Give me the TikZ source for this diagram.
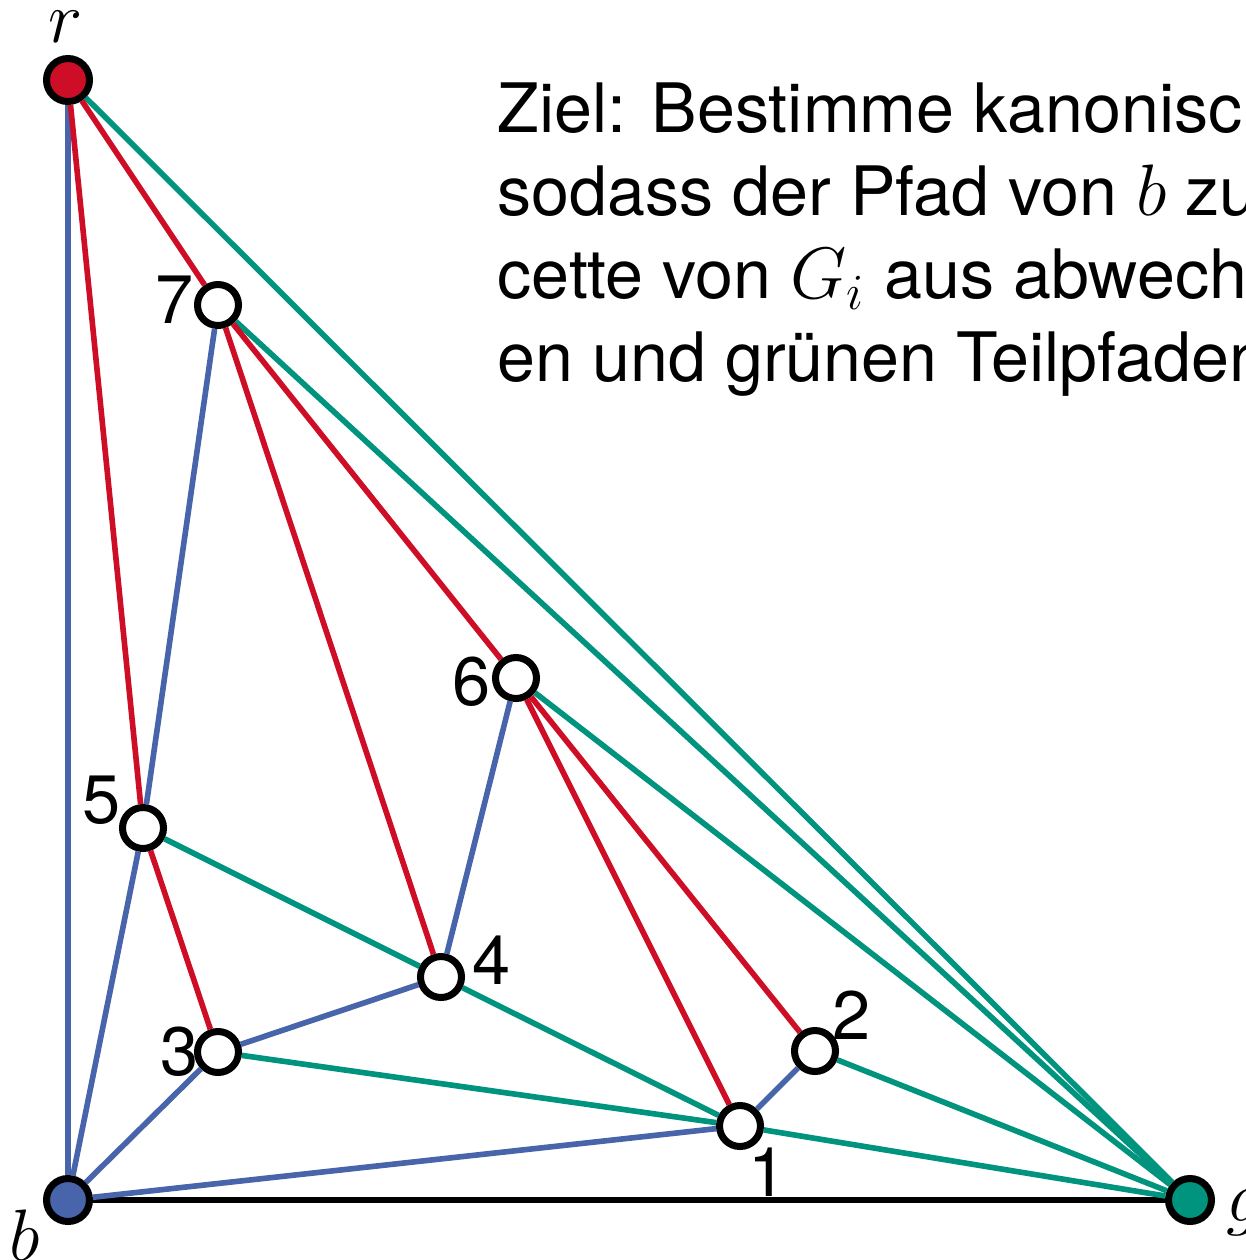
\documentclass[tikz,border=0pt]{standalone}
\usepackage{fontspec}
\setmainfont{TeX Gyre Heros}
\usetikzlibrary{positioning}
\definecolor{redpath}{RGB}{206, 14, 38}
\definecolor{bluepath}{RGB}{72, 100, 170}
\definecolor{greenpath}{RGB}{0, 148, 126}
\tikzset{
vertex/.style={
  circle,
  draw=black,
  line width=2pt,
  fill=white,
  minimum size=4.1mm,
  inner sep=0pt
},
rootvertex/.style={
  vertex,
  minimum size=4.3mm
},
numlabel/.style={
  font=\fontsize{19.5}{22}\selectfont,
  inner sep=0pt
},
rededge/.style={
  draw=redpath,
  line width=1.6pt
},
blueedge/.style={
  draw=bluepath,
  line width=1.6pt
},
greenedge/.style={
  draw=greenpath,
  line width=1.6pt
},
outeredge/.style={
  draw=black,
  line width=1.6pt
}
}
\begin{document}
\begin{tikzpicture}
  \useasboundingbox (0,0) rectangle (12.46,-12.60);
  \clip (0,0) rectangle (12.46,-12.60);

  % outer vertices
  \node[rootvertex, fill=redpath] (r) at (0.68,-0.80) {};
  \node[rootvertex, fill=bluepath] (b) at (0.68,-12.00) {};
  \node[rootvertex, fill=greenpath] (g) at (11.90,-12.00) {};

  % inner vertices
  \node[vertex] (v7) at (2.18,-3.05) {};
  \node[vertex] (v6) at (5.16,-6.78) {};
  \node[vertex] (v5) at (1.43,-8.28) {};
  \node[vertex] (v4) at (4.41,-9.77) {};
  \node[vertex] (v3) at (2.18,-10.52) {};
  \node[vertex] (v2) at (8.15,-10.51) {};
  \node[vertex] (v1) at (7.40,-11.26) {};

  % edges
  \draw[outeredge] (b) -- (g);
  \draw[blueedge] (b) -- (r);
  \draw[greenedge] (r) -- (g);
  \draw[rededge] (r) -- (v7);
  \draw[rededge] (r) -- (v5);
  \draw[greenedge] (v7) -- (g);
  \draw[blueedge] (v7) -- (v5);
  \draw[rededge] (v7) -- (v4);
  \draw[rededge] (v7) -- (v6);
  \draw[greenedge] (v6) -- (g);
  \draw[blueedge] (v6) -- (v4);
  \draw[rededge] (v6) -- (v1);
  \draw[rededge] (v6) -- (v2);
  \draw[blueedge] (v5) -- (b);
  \draw[rededge] (v5) -- (v3);
  \draw[greenedge] (v5) -- (v4);
  \draw[blueedge] (v4) -- (v3);
  \draw[greenedge] (v4) -- (v1);
  \draw[blueedge] (v3) -- (b);
  \draw[greenedge] (v3) -- (v1);
  \draw[blueedge] (v1) -- (b);
  \draw[blueedge] (v1) -- (v2);
  \draw[greenedge] (v2) -- (g);
  \draw[greenedge] (v1) -- (g);

  % labels
  \node[numlabel] (lr) at (0.66,-0.27) {$r$};
  \node[numlabel] (lb) at (0.25,-12.35) {$b$};
  \node[numlabel, anchor=west] (lg) at (12.26,-12.13) {$g$};
  \node[numlabel] (l7) at (1.75,-3.00) {7};
  \node[numlabel] (l6) at (4.72,-6.82) {6};
  \node[numlabel] (l5) at (1.02,-8.00) {5};
  \node[numlabel] (l4) at (4.92,-9.60) {4};
  \node[numlabel] (l3) at (1.80,-10.52) {3};
  \node[numlabel] (l2) at (8.52,-10.15) {2};
  \node[numlabel] (l1) at (7.68,-11.72) {1};

  % goal text
  \node[anchor=base west, inner sep=0pt, align=left,
        font=\fontsize{19.4}{23.6}\selectfont] (goal) at (4.97,-3.81)
    {Ziel: Bestimme kanonisch\\
     sodass der Pfad von $b$ zu\\
     cette von $G_i$ aus abwech\\
     en und grünen Teilpfaden};
\end{tikzpicture}
\end{document}
